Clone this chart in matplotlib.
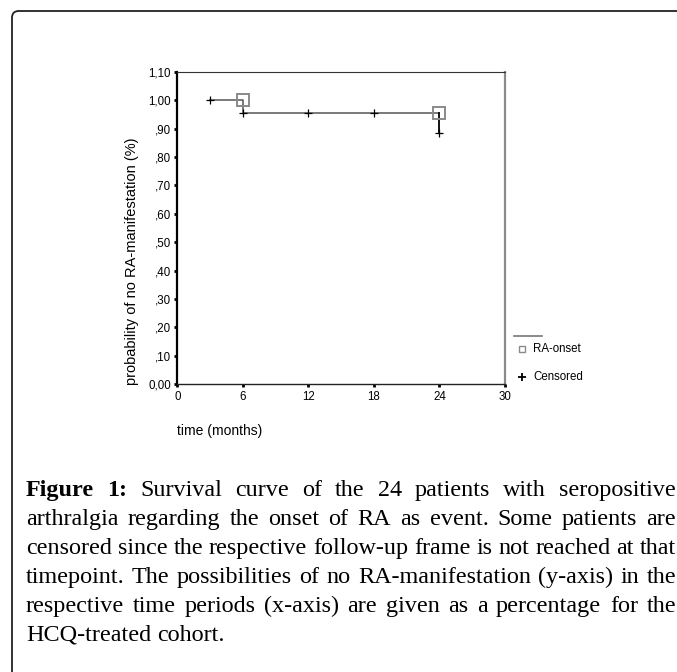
import matplotlib
matplotlib.use('Agg')
import matplotlib.pyplot as plt
from matplotlib.patches import FancyBboxPatch
from matplotlib.lines import Line2D

# Kaplan-Meier data
step_t = [3, 6, 6, 24, 24]
step_s = [1.00, 1.00, 0.955, 0.955, 0.885]
event_t = [6, 24]
event_s = [1.00, 0.955]
cens_t = [3, 6, 12, 18, 24]
cens_s = [1.00, 0.955, 0.955, 0.955, 0.885]

xticks = [0, 6, 12, 18, 24, 30]
yticks = [0.0, 0.1, 0.2, 0.3, 0.4, 0.5, 0.6, 0.7, 0.8, 0.9, 1.0, 1.1]
ytick_labels = ['0,00', ',10', ',20', ',30', ',40', ',50', ',60', ',70', ',80', ',90', '1,00', '1,10']

caption_lines = [
    "Figure 1: Survival curve of the 24 patients with seropositive",
    "arthralgia regarding the onset of RA as event. Some patients are",
    "censored since the respective follow-up frame is not reached at that",
    "timepoint. The possibilities of no RA-manifestation (y-axis) in the",
    "respective time periods (x-axis) are given as a percentage for the",
    "HCQ-treated cohort.",
]

W, H = 677, 672
fig = plt.figure(figsize=(W / 100, H / 100), dpi=100)
plt.rcParams['font.family'] = 'Liberation Sans'

def px(x, y):
    # image pixel (top-left origin) -> figure fraction
    return x / W, 1 - y / H

# frame round the figure panel (runs off the right and bottom edges)
frame = FancyBboxPatch(px(12, 700), 800 / W, (700 - 11) / H,
                       boxstyle='round,pad=0,rounding_size=0.01',
                       transform=fig.transFigure, fill=False,
                       ec='#222222', lw=1.3)
fig.patches.append(frame)

l, r, t, b = 177.3, 505, 71.7, 384.3
ax = fig.add_axes([l / W, 1 - b / H, (r - l) / W, (b - t) / H])
ax.set_xlim(0, 30)
ax.set_ylim(0, 1.1)

ax.plot(step_t[:-1], step_s[:-1], color='#555555', lw=1.1)
ax.plot(step_t[-2:], step_s[-2:], color='black', lw=1.3)
ax.plot(cens_t, cens_s, ls='none', marker='+', color='black', ms=6, mew=0.9)
ax.plot(event_t, event_s, ls='none', marker='s', mfc='none', mec='#8a8a8a', ms=8, mew=1.4)

ax.set_xticks(xticks)
ax.set_xticklabels([str(v) for v in xticks])
ax.set_yticks(yticks)
ax.set_yticklabels(ytick_labels)
ax.tick_params(direction='out', length=2.5, width=2, color='black', labelsize=8.3, pad=2)

ax.spines['left'].set_color('black')
ax.spines['left'].set_linewidth(1.6)
ax.spines['bottom'].set_color('#222222')
ax.spines['bottom'].set_linewidth(1.0)
ax.spines['top'].set_color('#333333')
ax.spines['top'].set_linewidth(0.8)
ax.spines['right'].set_color('#8a8a8a')
ax.spines['right'].set_linewidth(1.6)

# axis titles
fig.text(*px(132, 261.5), 'probability of no RA-manifestation (%)', rotation=90,
         ha='center', va='center', fontsize=10.5)
fig.text(*px(177, 431), 'time (months)', ha='left', va='center', fontsize=10)

# legend
fig.add_artist(Line2D([514 / W, 542 / W], [1 - 336 / H] * 2, color='#777777', lw=1.2))
fig.add_artist(Line2D([522 / W], [1 - 349 / H], marker='s', mfc='none', mec='#8a8a8a', ms=4, mew=1.0))
fig.text(*px(533, 349), 'RA-onset', ha='left', va='center', fontsize=8.3)
fig.add_artist(Line2D([522 / W], [1 - 377 / H], marker='+', color='black', ms=6, mew=1.3))
fig.text(*px(533, 377), 'Censored', ha='left', va='center', fontsize=8.3)

# justified caption
renderer = fig.canvas.get_renderer()
x0, x1 = 26, 676
baselines = [496, 525, 554, 583, 612, 641]

def word_width(s, size, weight):
    tt = fig.text(0, 0, s, fontsize=size, family='Liberation Serif', fontweight=weight)
    w = tt.get_window_extent(renderer).width
    tt.remove()
    return w

# pick a size so the third (unstretched) line fills the width
ref = word_width(caption_lines[2], 10, 'normal')
size = 10 * (x1 - x0) / ref

for i, line in enumerate(caption_lines):
    words = line.split(' ')
    weights = ['bold' if (i == 0 and j < 2) else 'normal' for j in range(len(words))]
    widths = [word_width(wd, size, wt) for wd, wt in zip(words, weights)]
    if i < len(caption_lines) - 1:
        gap = (x1 - x0 - sum(widths)) / (len(words) - 1)
    else:
        gap = word_width('a b', size, 'normal') - word_width('ab', size, 'normal')
    x = x0
    for wd, wt, w in zip(words, weights, widths):
        fig.text(*px(x, baselines[i]), wd, fontsize=size, family='Liberation Serif',
                 fontweight=wt, ha='left', va='baseline')
        x += w + gap

fig.savefig('out.png', dpi=100)
